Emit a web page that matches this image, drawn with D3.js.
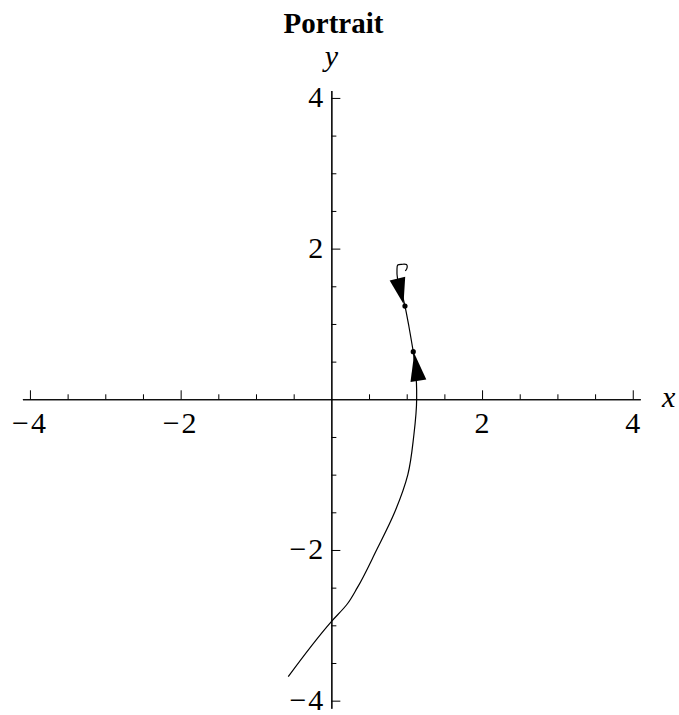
<!DOCTYPE html>
<html>
<head>
<meta charset="utf-8">
<script src="https://cdn.jsdelivr.net/npm/d3@7"></script>
<style>
  html, body { margin: 0; padding: 0; background: #fff; }
  svg { display: block; }
  text { font-family: "Liberation Serif", "Times New Roman", serif; fill: #000; }
</style>
</head>
<body>
<svg id="chart" width="679" height="715"></svg>
<script>
// Lower branch of the trajectory (y increasing), ending at the first initial point
const lowerX = [-0.572, 0, 0.211, 0.345, 0.60, 0.84, 1.015, 1.092, 1.132, 1.132, 1.087];
const lowerY = [-3.68, -2.95, -2.717, -2.5, -2.0, -1.5, -1.0, -0.5, 0, 0.123, 0.632];

// Upper branch: from the first initial point up through the second and into the small loop
const upperX = [1.087, 1.030, 0.977, 0.924, 0.877, 0.871, 0.881, 0.937, 0.997, 1.007, 0.983];
const upperY = [0.632, 0.963, 1.238, 1.451, 1.610, 1.716, 1.782, 1.792, 1.788, 1.756, 1.703];

// Initial points
const dotX = [1.087, 0.977];
const dotY = [0.632, 1.238];

// Direction arrows: tip and base centre
const arrowTipX  = [1.100, 0.958];
const arrowTipY  = [0.610, 1.265];
const arrowBaseX = [1.155, 0.877];
const arrowBaseY = [0.246, 1.603];

// Axis ticks
const majorTicks = [-4, -2, 2, 4];
const minorTicks = [-3.5, -3, -2.5, -1.5, -1, -0.5, 0.5, 1, 1.5, 2.5, 3, 3.5];
const tickLabels = ["\u22124", "\u22122", "2", "4"];

const xDomain = [-4.1, 4.1];
const yDomain = [-4.1, 4.1];

const svg = d3.select("#chart");
const x = d3.scaleLinear().domain(xDomain).range([22.4, 640.3]);
const y = d3.scaleLinear().domain(yDomain).range([708.2, 90.4]);

const FONT = 30;

// Title
svg.append("text")
  .attr("x", 333.5).attr("y", 33)
  .attr("text-anchor", "middle")
  .style("font-size", "29px")
  .style("font-weight", "bold")
  .text("Portrait");

// x axis through y = 0, ticks pointing up
const gx = svg.append("g").attr("transform", `translate(0,${y(0)})`);
gx.append("g").call(d3.axisTop(x).tickValues(minorTicks).tickSize(5).tickSizeOuter(0).tickFormat(""));
gx.append("g").call(d3.axisTop(x).tickValues(majorTicks).tickSize(9).tickSizeOuter(0).tickFormat(""));

// y axis through x = 0, ticks pointing right
const gy = svg.append("g").attr("transform", `translate(${x(0)},0)`);
gy.append("g").call(d3.axisRight(y).tickValues(minorTicks).tickSize(5).tickSizeOuter(0).tickFormat(""));
gy.append("g").call(d3.axisRight(y).tickValues(majorTicks).tickSize(9).tickSizeOuter(0).tickFormat(""));

svg.selectAll(".domain").attr("stroke", "#000").attr("stroke-width", 1.1);
svg.selectAll(".tick line").attr("stroke", "#000").attr("stroke-width", 1);

// tick label: minus sign set slightly apart from the digit
function addLabel(sel, label) {
  if (label.startsWith("\u2212")) {
    sel.append("tspan").text("\u2212");
    sel.append("tspan").attr("dx", 2).text(label.slice(1));
  } else {
    sel.text(label);
  }
}

majorTicks.forEach((v, i) => {
  const tx = svg.append("text")
    .attr("x", x(v) + (tickLabels[i].startsWith("\u2212") ? -1 : 0))
    .attr("y", y(0) + 34)
    .attr("text-anchor", "middle")
    .style("font-size", FONT + "px");
  addLabel(tx, tickLabels[i]);

  const ty = svg.append("text")
    .attr("x", x(0) - 8)
    .attr("y", y(v) + 9.5)
    .attr("text-anchor", "end")
    .style("font-size", FONT + "px");
  addLabel(ty, tickLabels[i]);
});

// Axis names
svg.append("text")
  .attr("x", 662).attr("y", 407)
  .style("font-size", FONT + "px")
  .style("font-style", "italic")
  .text("x");
svg.append("text")
  .attr("x", x(0)).attr("y", 66)
  .attr("text-anchor", "middle")
  .style("font-size", FONT + "px")
  .style("font-style", "italic")
  .text("y");

// Trajectory
function drawBranch(xs, ys, curve) {
  const pts = xs.map((d, i) => [d, ys[i]]);
  const line = d3.line().x(d => x(d[0])).y(d => y(d[1])).curve(curve);
  svg.append("path")
    .attr("d", line(pts))
    .attr("fill", "none")
    .attr("stroke", "#000")
    .attr("stroke-width", 1.2)
    .attr("stroke-linejoin", "round");
}
drawBranch(lowerX, lowerY, d3.curveMonotoneY);
drawBranch(upperX, upperY, d3.curveCatmullRom.alpha(0.5));

// Arrowheads
const HALF = 8;
arrowTipX.forEach((tx, i) => {
  const px = x(tx), py = y(arrowTipY[i]);
  const bx = x(arrowBaseX[i]), by = y(arrowBaseY[i]);
  const dx = px - bx, dy = py - by;
  const len = Math.hypot(dx, dy);
  const nx = -dy / len, ny = dx / len;
  const tri = [[px, py], [bx + nx * HALF, by + ny * HALF], [bx - nx * HALF, by - ny * HALF]];
  svg.append("path")
    .attr("d", "M" + tri.map(p => p.join(",")).join("L") + "Z")
    .attr("fill", "#000");
});

// Initial points
svg.selectAll("circle.pt")
  .data(dotX.map((d, i) => [d, dotY[i]]))
  .enter().append("circle")
  .attr("class", "pt")
  .attr("cx", d => x(d[0])).attr("cy", d => y(d[1]))
  .attr("r", 2.6)
  .attr("fill", "#000");
</script>
</body>
</html>
